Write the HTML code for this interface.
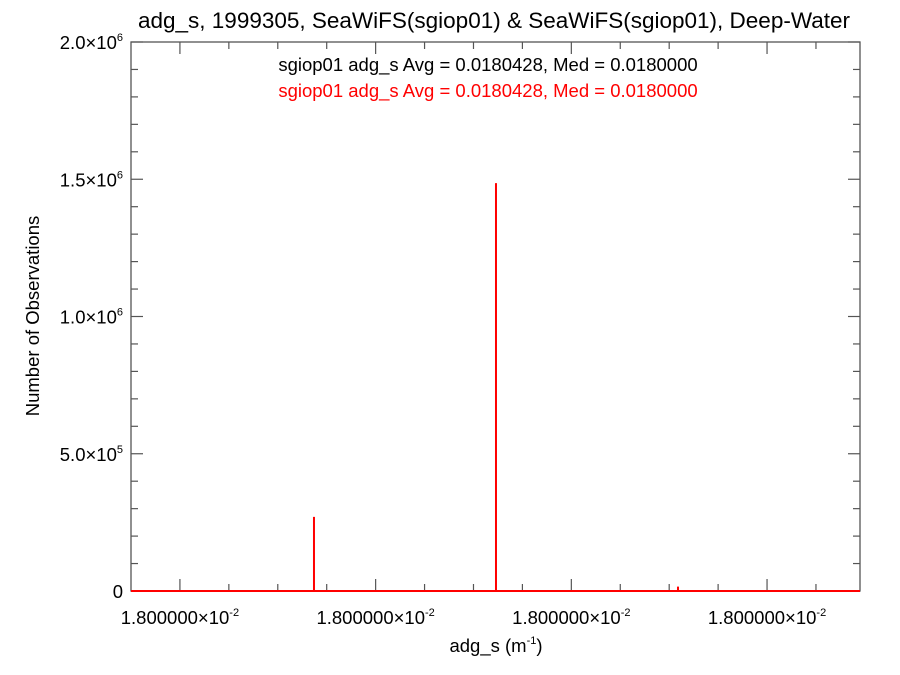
<!DOCTYPE html>
<html><head><meta charset="utf-8"><style>
body{margin:0;background:#fff}
svg{display:block;font-family:"Liberation Sans",Helvetica,Arial,sans-serif}
</style></head><body>
<svg id="chart" width="900" height="675" viewBox="0 0 900 675" xmlns="http://www.w3.org/2000/svg">
<rect width="900" height="675" fill="#fff"/>
<text x="494" y="28" font-size="22.5" text-anchor="middle" fill="#000">adg_s, 1999305, SeaWiFS(sgiop01) &amp; SeaWiFS(sgiop01), Deep-Water</text>
<text x="488" y="71" font-size="18.5" text-anchor="middle" fill="#000">sgiop01 adg_s Avg = 0.0180428, Med = 0.0180000</text>
<text x="488" y="97" font-size="18.5" text-anchor="middle" fill="#ff0000">sgiop01 adg_s Avg = 0.0180428, Med = 0.0180000</text>
<text transform="translate(39,316) rotate(-90)" font-size="18.5" text-anchor="middle" fill="#000">Number of Observations</text>
<text x="496" y="652" font-size="18.5" text-anchor="middle" fill="#000">adg_s (m<tspan font-size="11" dy="-8">-1</tspan><tspan dy="8">)</tspan></text>
<g id="axes"></g>
<g id="marks"></g>
</svg>
<script>
const xTickVals=[0,1,2,3];
const xTickLabel="1.800000";
const yTickVals=[0,500000,1000000,1500000,2000000];
const yTickLabels=["0","5.0","1.0","1.5","2.0"];
const yTickExps=["","5","6","6","6"];
const binPositions=[0.685,1.615,2.545];
const binCounts=[270000,1486000,16000];

const L=131,R=860,T=42,B=591;
const xMin=-0.25,xMax=3.475,yMax=2000000;
const sx=v=>L+(v-xMin)/(xMax-xMin)*(R-L);
const sy=v=>B-v/yMax*(B-T);
const NS="http://www.w3.org/2000/svg";
const axes=document.getElementById('axes'),marks=document.getElementById('marks');
function mk(tag,attrs,parent){const e=document.createElementNS(NS,tag);for(const k in attrs)e.setAttribute(k,attrs[k]);parent.appendChild(e);return e;}
const frame=mk('rect',{x:L,y:T,width:R-L,height:B-T,fill:'none',stroke:'#555','stroke-width':1.3},axes);


for(let v=-0.25;v<=xMax+1e-6;v+=0.25){
  if(v<xMin+0.01)continue;
  const major=Math.abs(v-Math.round(v))<1e-6;
  const len=major?12:7;const x=sx(v);
  const t1=mk('line',{x1:x,x2:x,y1:B,y2:B-len,stroke:'#555','stroke-width':1.2},axes);
  
  
  const t2=mk('line',{x1:x,x2:x,y1:T,y2:T+len,stroke:'#555','stroke-width':1.2},axes);
  
  
}
xTickVals.forEach(v=>{
  const t=mk('text',{x:sx(v),y:624,'font-size':18.5,'text-anchor':'middle',fill:'#000'},axes);
  
  
  t.innerHTML=xTickLabel+'×10<tspan font-size="11" dy="-8">-2</tspan>';
});
for(let v=0;v<=yMax;v+=100000){
  const major=v%500000===0;const len=major?12:7;const y=sy(v);
  const t1=mk('line',{x1:L,x2:L+len,y1:y,y2:y,stroke:'#555','stroke-width':1.2},axes);
  
  
  const t2=mk('line',{x1:R,x2:R-len,y1:y,y2:y,stroke:'#555','stroke-width':1.2},axes);
  
  
}
yTickVals.forEach((v,i)=>{
  const t=mk('text',{x:123,y:sy(v)+7,'font-size':18.5,'text-anchor':'end',fill:'#000'},axes);
  
  
  t.innerHTML=yTickExps[i]?yTickLabels[i]+'×10<tspan font-size="11" dy="-8">'+yTickExps[i]+'</tspan>':yTickLabels[i];
});
const base=mk('line',{x1:L,x2:R,y1:B,y2:B,stroke:'#ff0000','stroke-width':2},marks);


binPositions.forEach((p,i)=>{
  const b=mk('line',{x1:sx(p),x2:sx(p),y1:B,y2:sy(binCounts[i]),stroke:'#ff0000','stroke-width':2},marks);
  
  
});
</script>
</body></html>
